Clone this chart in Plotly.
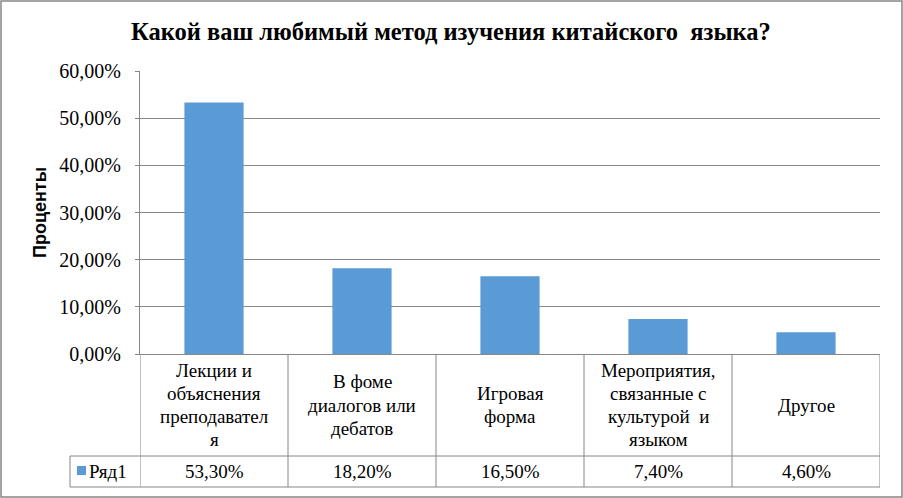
import plotly.graph_objects as go

categories = [
    "Лекции и<br>объяснения<br>преподавател<br>я",
    "В фоме<br>диалогов или<br>дебатов",
    "Игровая<br>форма",
    "Мероприятия,<br>связанные с<br>культурой  и<br>языком",
    "Другое",
]
values = [0.533, 0.182, 0.165, 0.074, 0.046]
value_labels = ["53,30%", "18,20%", "16,50%", "7,40%", "4,60%"]
series_name = "Ряд1"
title_text = "Какой ваш любимый метод изучения китайского  языка?"
y_title = "Проценты"
y_ticks = [0, 0.1, 0.2, 0.3, 0.4, 0.5, 0.6]

W, H = 903, 498
L, R, T, B = 140, 880, 71, 354  # plot area in pixels
GRID = "#868686"
BAR = "#5B9BD5"
SERIF = "Times New Roman, Liberation Serif, serif"
SANS = "Arial, Liberation Sans, sans-serif"
LINE_H = 23.3
TSIZE = 19

def py(p):  # pixel y -> paper y
    return (B - p) / (B - T)

def px(p):  # pixel x -> paper x
    return (p - L) / (R - L)

fig = go.Figure()
fig.add_trace(go.Bar(
    x=list(range(len(values))), y=values, width=0.4,
    marker=dict(color=BAR, line=dict(width=0)), name=series_name,
    showlegend=False, hoverinfo="skip",
))

shapes = []
row_mid, row_bot = 456, 487
n = len(values)
for i in range(n + 1):
    shapes.append(dict(type="line", xref="x", yref="paper",
                       x0=i - 0.5, x1=i - 0.5, y0=py(B), y1=py(row_bot),
                       line=dict(color=GRID, width=1)))
for yy in (row_mid, row_bot):
    shapes.append(dict(type="line", xref="paper", yref="paper",
                       x0=px(70), x1=1, y0=py(yy), y1=py(yy),
                       line=dict(color=GRID, width=1)))
shapes.append(dict(type="line", xref="paper", yref="paper",
                   x0=px(70), x1=px(70), y0=py(row_mid), y1=py(row_bot),
                   line=dict(color=GRID, width=1)))
shapes.append(dict(type="rect", xref="paper", yref="paper",
                   x0=px(77), x1=px(86), y0=py(466), y1=py(475),
                   fillcolor=BAR, line=dict(width=0)))
shapes.append(dict(type="rect", xref="paper", yref="paper",
                   x0=px(1), x1=px(902), y0=py(1), y1=py(497),
                   line=dict(color=GRID, width=1.5)))

annotations = []
head_mid = (B + row_mid) / 2
for i, c in enumerate(categories):
    lines = c.split("<br>")
    k = len(lines)
    for j, ln in enumerate(lines):
        yy = head_mid + (j - (k - 1) / 2) * LINE_H
        annotations.append(dict(x=i, y=py(yy), xref="x", yref="paper",
                                text=ln, showarrow=False, xanchor="center",
                                yanchor="middle", font=dict(size=TSIZE)))
    annotations.append(dict(x=i, y=py(471.5), xref="x", yref="paper",
                            text=value_labels[i], showarrow=False,
                            xanchor="center", yanchor="middle",
                            font=dict(size=TSIZE)))
annotations.append(dict(x=px(87), y=py(471.5), xref="paper", yref="paper",
                        text=series_name, showarrow=False, xanchor="left",
                        yanchor="middle", font=dict(size=TSIZE)))
annotations.append(dict(x=px(451), y=py(31), xref="paper", yref="paper",
                        text="<b>" + title_text + "</b>", showarrow=False,
                        xanchor="center", yanchor="middle",
                        font=dict(size=24.5)))

fig.update_layout(
    width=W, height=H,
    margin=dict(l=L, r=W - R, t=T, b=H - B, pad=0),
    paper_bgcolor="white", plot_bgcolor="white",
    font=dict(family=SERIF, size=18, color="black"),
    separators=", ",
    bargap=0.6,
    shapes=shapes, annotations=annotations,
    xaxis=dict(range=[-0.5, n - 0.5], showticklabels=False, showgrid=False,
               zeroline=False, showline=True, linecolor=GRID, linewidth=1,
               ticks=""),
    yaxis=dict(range=[0, 0.6], tickvals=y_ticks, tickformat=".2%",
               showgrid=True, gridcolor=GRID, gridwidth=1, zeroline=False,
               showline=True, linecolor=GRID, linewidth=1,
               ticks="outside", ticklen=4, tickcolor=GRID,
               ticklabelstandoff=10,
               tickfont=dict(size=20),
               title=dict(text="<b>" + y_title + "</b>", standoff=8,
                          font=dict(family=SANS, size=18, color="black"))),
)

fig.write_html("out.html", config={"displayModeBar": False},
               post_script="document.body.style.margin='0';document.body.style.overflow='hidden';")
